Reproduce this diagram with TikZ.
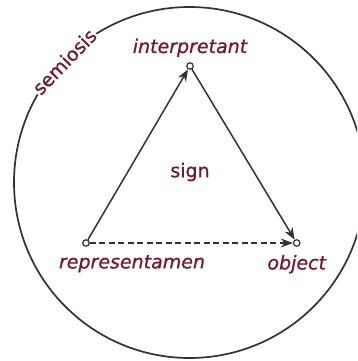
\documentclass[tikz,border=0pt]{standalone}
\usepackage{fontspec}
\setsansfont{DejaVu Sans}[FakeBold=1]
\usepackage{tikz}
\usetikzlibrary{arrows.meta,positioning,calc}
\definecolor{cLine}{RGB}{50,50,50}
\definecolor{cText}{RGB}{115,26,48}
\tikzset{
  vtx/.style={circle, draw=cLine, fill=white, line width=1.2pt,
              minimum size=6.5pt, inner sep=0pt},
  lbl/.style={font=\sffamily\fontsize{19}{21}\selectfont, text=cText, inner sep=1pt},
  ilbl/.style={lbl, font=\sffamily\itshape\fontsize{19}{21}\selectfont},
  arr/.style={-{Stealth[length=12pt,width=9pt]}, line width=1.5pt, draw=cLine},
  darr/.style={arr, dash pattern=on 6pt off 3.5pt},
}

\begin{document}
\begin{tikzpicture}[x=1pt, y=-1pt, node distance=4pt]
  \useasboundingbox (0,0) rectangle (357,361);
  \clip (0,0) rectangle (357,361);
  \coordinate (c) at (189.5,182.5);
  \draw[cLine, line width=1.7pt] (c) circle[radius=175.5];
  \node[lbl, fill=white, rotate=46] (semio) at ($(c)+(-136:174)$) {semiosis};

  \node[vtx] (rep) at (86,243) {};
  \node[vtx, right=203pt of rep] (obj) {};
  \node[vtx] (intp) at (190,66) {};

  \node[ilbl, above=of intp] (intpl) {interpretant};
  \node[ilbl, below=7pt of rep, xshift=46pt] (repl) {representamen};
  \node[ilbl, below=7pt of obj] (objl) {object};
  \node[lbl] (sign) at (190,172) {sign};

  \draw[arr] (rep) -- (intp);
  \draw[arr] (intp) -- (obj);
  \draw[darr] (rep) -- (obj);
\end{tikzpicture}
\end{document}
